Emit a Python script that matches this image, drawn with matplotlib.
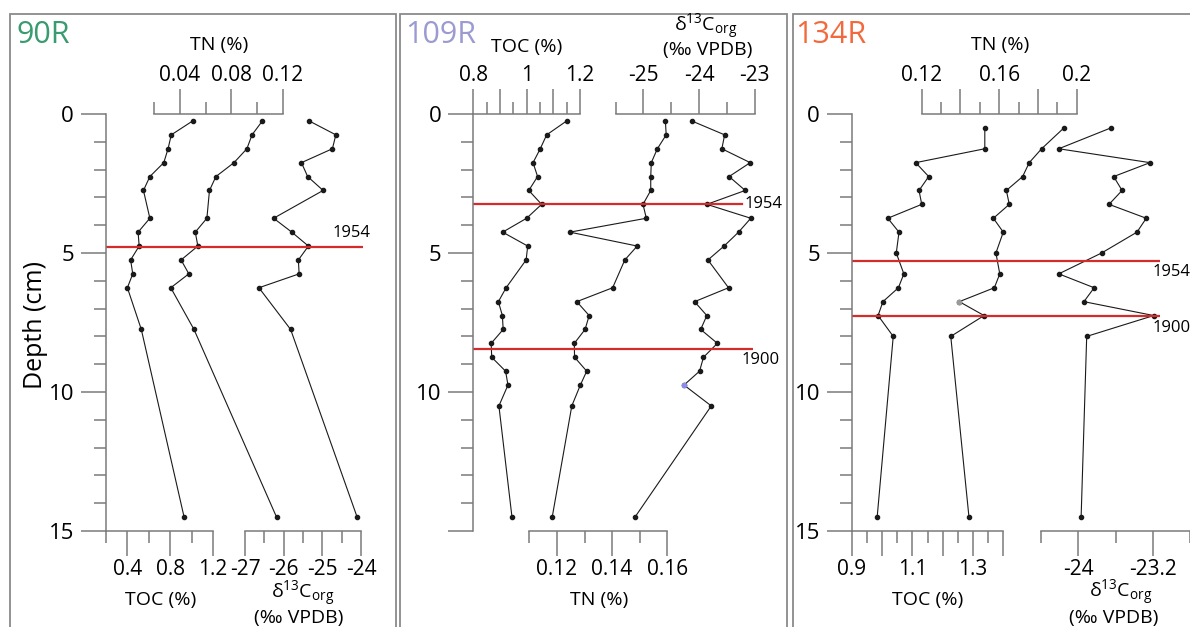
import matplotlib.pyplot as plt
from matplotlib.patches import Rectangle

plt.rcParams['font.family'] = ['Open Sans', 'DejaVu Sans']
plt.rcParams['mathtext.fontset'] = 'custom'
plt.rcParams['mathtext.rm'] = 'Open Sans'
plt.rcParams['axes.unicode_minus'] = False

# ---- core 90R
depth_90 = [0.25, 0.75, 1.25, 1.75, 2.25, 2.75, 3.75, 4.25, 4.75, 5.25, 5.75, 6.25, 7.75, 14.5]
toc_90 = [1.01, 0.81, 0.78, 0.74, 0.61, 0.55, 0.61, 0.50, 0.51, 0.43, 0.45, 0.40, 0.53, 0.93]
tn_90 = [0.104, 0.096, 0.092, 0.082, 0.068, 0.063, 0.061, 0.052, 0.054, 0.041, 0.047, 0.033, 0.051, 0.115]
d13c_90 = [-25.34, -24.65, -24.74, -25.54, -25.38, -24.98, -26.26, -25.79, -25.36, -25.62, -25.60, -26.64, -25.82, -24.10]

# ---- core 109R
depth_109 = [0.25, 0.75, 1.25, 1.75, 2.25, 2.75, 3.25, 3.75, 4.25, 4.75, 5.25, 6.25, 6.75, 7.25,
             7.75, 8.25, 8.75, 9.25, 9.75, 10.5, 14.5]
toc_109 = [1.150, 1.075, 1.051, 1.024, 1.041, 1.008, 1.056, 1.000, 0.910, 1.004, 0.998, 0.923, 0.894,
           0.909, 0.912, 0.867, 0.869, 0.921, 0.930, 0.896, 0.945]
tn_109 = [0.1593, 0.1596, 0.1564, 0.1542, 0.1540, 0.1540, 0.1512, 0.1524, 0.1247, 0.1491, 0.1446,
          0.1402, 0.1272, 0.1317, 0.1302, 0.1263, 0.1264, 0.1308, 0.1285, 0.1254, 0.1183]
d13c_109 = [-24.13, -23.54, -23.59, -23.08, -23.46, -23.17, -23.86, -23.07, -23.29, -23.55, -23.84,
            -23.47, -24.08, -23.86, -23.97, -23.67, -23.92, -23.99, -24.27, -23.78, -25.15]

# ---- core 134R
depth_134 = [0.5, 1.25, 1.75, 2.25, 2.75, 3.25, 3.75, 4.25, 5.0, 5.75, 6.25, 6.75, 7.25, 8.0, 14.5]
toc_134 = [1.339, 1.339, 1.111, 1.154, 1.122, 1.131, 1.019, 1.056, 1.047, 1.072, 1.054, 1.003, 0.987, 1.037, 0.984]
tn_134 = [0.1934, 0.1819, 0.1755, 0.1721, 0.1637, 0.1652, 0.1570, 0.1621, 0.1583, 0.1603, 0.1575,
          0.1394, 0.1522, 0.1350, 0.1444]
d13c_134 = [-23.65, -24.21, -23.23, -23.62, -23.53, -23.67, -23.27, -23.37, -23.75, -24.21, -23.83,
            -23.94, -23.19, -23.91, -23.97]

# dated horizons (year, depth cm)
years_90, ev_depth_90 = ['1954'], [4.8]
years_109, ev_depth_109 = ['1954', '1900'], [3.25, 8.45]
years_134, ev_depth_134 = ['1954', '1900'], [5.3, 7.25]

W, H = 1190, 627
Y0, Y1 = 114, 531  # pixel rows of depth 0 and depth 15
GRAY = '#7a7a7a'
FRAME = '#8a8a8a'
RED = '#d42b2b'
LINE = '#1a1a1a'

fig = plt.figure(figsize=(11.9, 6.27), dpi=100)


def px_axes(x0, x1):
    return fig.add_axes([x0 / W, 1 - Y1 / H, (x1 - x0) / W, (Y1 - Y0) / H])


def series(x0, x1, lim, side, major, labels, minor, depth, vals):
    ax = px_axes(x0, x1)
    ax.patch.set_visible(False)
    ax.set_xlim(lim)
    ax.set_ylim(15, 0)
    for k, s in ax.spines.items():
        s.set_visible(k == side)
        s.set_color(GRAY)
        s.set_linewidth(1.1)
    ax.yaxis.set_visible(False)
    ax.xaxis.set_ticks_position(side)
    ax.set_xticks(major)
    ax.set_xticklabels(labels)
    ax.set_xticks(minor, minor=True)
    ax.tick_params(axis='x', which='major', length=18, width=1.1, color=GRAY, pad=2, labelsize=15)
    ax.tick_params(axis='x', which='minor', length=8.5, width=1.1, color=GRAY)
    ax.plot(vals, depth, '-o', color=LINE, lw=0.8, ms=3, clip_on=False)
    return ax


def depth_axis(x0, x1, labels):
    ax = px_axes(x0, x1)
    ax.patch.set_visible(False)
    ax.set_xlim(0, 1)
    ax.set_ylim(15, 0)
    for k, s in ax.spines.items():
        s.set_visible(k == 'left')
        s.set_color(GRAY)
        s.set_linewidth(1.1)
    ax.xaxis.set_visible(False)
    ax.set_yticks([0, 5, 10, 15])
    ax.set_yticklabels(labels)
    ax.set_yticks(range(16), minor=True)
    ax.tick_params(axis='y', which='major', length=18, width=1.1, color=GRAY, pad=5, labelsize=16)
    ax.tick_params(axis='y', which='minor', length=8.5, width=1.1, color=GRAY)
    return ax


# panel frames
for x0, x1 in [(10, 396), (400, 787), (793, 1200)]:
    fig.add_artist(Rectangle((x0 / W, -0.1), (x1 - x0) / W, 1 - 14 / H + 0.1,
                             transform=fig.transFigure, fill=False, ec=FRAME, lw=1.3))

# ================= 90R
series(106, 213, (0.2, 1.2), 'bottom', [0.4, 0.8, 1.2], ['0.4', '0.8', '1.2'], [0.2, 0.6, 1.0],
       depth_90, toc_90)
series(154, 283, (0.02, 0.12), 'top', [0.04, 0.08, 0.12], ['0.04', '0.08', '0.12'], [0.02, 0.06, 0.10],
       depth_90, tn_90)
series(245, 361, (-27, -24), 'bottom', [-27, -26, -25, -24], ['-27', '-26', '-25', '-24'],
       [-26.5, -25.5, -24.5], depth_90, d13c_90)
ax = depth_axis(106, 362.7, ['0', '5', '10', '15'])
ax.axhline(ev_depth_90[0], 0, 1, color=RED, lw=1.6)
ax.text(0.884, 4.28, years_90[0], transform=ax.get_yaxis_transform(), fontsize=12, va='center', ha='left')

# ================= 109R
series(473.3, 580, (0.8, 1.2), 'top', [0.8, 0.9, 1.0, 1.1, 1.2], ['0.8', '', '1', '', '1.2'],
       [0.85, 0.95, 1.05, 1.15], depth_109, toc_109)
series(529.3, 667.3, (0.11, 0.16), 'bottom', [0.12, 0.14, 0.16], ['0.12', '0.14', '0.16'],
       [0.11, 0.13, 0.15], depth_109, tn_109)
ax_d = series(615.5, 754.7, (-25.5, -23), 'top', [-25, -24, -23], ['-25', '-24', '-23'],
              [-25.5, -24.5, -23.5], depth_109, d13c_109)
ax_d.plot(d13c_109[18], depth_109[18], 'o', color='#8c8cf0', ms=3, clip_on=False)
ax = depth_axis(473.3, 753.3, ['0', '5', '10', ''])
ax.axhline(ev_depth_109[0], 0, 0.959, color=RED, lw=1.6)
ax.axhline(ev_depth_109[1], 0, 1, color=RED, lw=1.6)
ax.text(0.97, ev_depth_109[0], years_109[0], transform=ax.get_yaxis_transform(), fontsize=12,
        va='center', ha='left')
ax.text(1.095, 8.85, years_109[1], transform=ax.get_yaxis_transform(), fontsize=12,
        va='center', ha='right')

# ================= 134R
series(851.7, 1003.3, (0.9, 1.4), 'bottom', [0.9, 1.0, 1.1, 1.2, 1.3, 1.4], ['0.9', '', '1.1', '', '1.3', ''],
       [0.95, 1.05, 1.15, 1.25, 1.35], depth_134, toc_134)
ax_n = series(921.7, 1076.7, (0.12, 0.20), 'top', [0.12, 0.14, 0.16, 0.18, 0.20], ['0.12', '', '0.16', '', '0.2'],
              [0.13, 0.15, 0.17, 0.19], depth_134, tn_134)
ax_n.plot(tn_134[11], depth_134[11], 'o', color='#9a9a9a', ms=3, clip_on=False)
series(1041.1, 1190, (-24.4, -22.8), 'bottom', [-24, -23.2], ['-24', '-23.2'],
       [-24.4, -23.6, -22.8], depth_134, d13c_134)
ax = depth_axis(852, 1160, ['0', '5', '10', '15'])
for d in ev_depth_134:
    ax.axhline(d, 0, 1, color=RED, lw=1.6)
ax.text(0.977, 5.67, years_134[0], transform=ax.get_yaxis_transform(), fontsize=12, va='center', ha='left')
ax.text(0.977, 7.7, years_134[1], transform=ax.get_yaxis_transform(), fontsize=12, va='center', ha='left')


def ftext(x, y, s, **kw):
    fig.text(x / W, 1 - y / H, s, **kw)


# panel titles
ftext(16, 43, '90R', fontsize=22, color='#3a9a70', va='baseline')
ftext(405, 43, '109R', fontsize=22, color='#9b9bd2', va='baseline')
ftext(795, 43, '134R', fontsize=22, color='#f26a3c', va='baseline')

ftext(35, 325, 'Depth (cm)', fontsize=18, rotation=90, ha='center', va='center')

DELTA = r'$\mathregular{\delta^{13}C_{org}}$'
# axis titles 90R
ftext(219, 45, 'TN (%)', fontsize=14, ha='center', va='center')
ftext(161, 600, 'TOC (%)', fontsize=14, ha='center', va='center')
ftext(303, 599, DELTA, fontsize=14, ha='center', va='baseline')
ftext(299, 618, '(‰ VPDB)', fontsize=14, ha='center', va='center')
# axis titles 109R
ftext(527, 47, 'TOC (%)', fontsize=14, ha='center', va='center')
ftext(706, 32, DELTA, fontsize=14, ha='center', va='baseline')
ftext(708, 50, '(‰ VPDB)', fontsize=14, ha='center', va='center')
ftext(599, 600, 'TN (%)', fontsize=14, ha='center', va='center')
# axis titles 134R
ftext(1000, 45, 'TN (%)', fontsize=14, ha='center', va='center')
ftext(928, 600, 'TOC (%)', fontsize=14, ha='center', va='center')
ftext(1121, 598, DELTA, fontsize=14, ha='center', va='baseline')
ftext(1114, 618, '(‰ VPDB)', fontsize=14, ha='center', va='center')

fig.savefig('out.png', dpi=100)
